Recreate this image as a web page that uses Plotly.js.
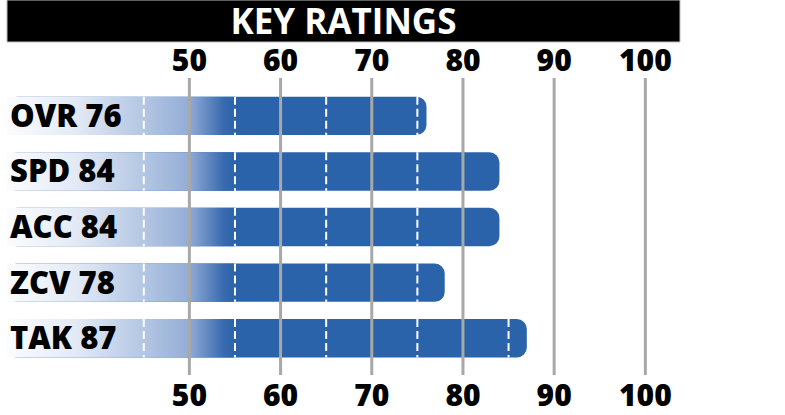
<!DOCTYPE html>
<html>
<head>
<meta charset="utf-8">
<script src="https://cdn.plot.ly/plotly-3.0.1.min.js"></script>
<style>html,body{margin:0;padding:0;background:#fff;}#chart{width:785px;height:415px;}</style>
</head>
<body>
<div id="chart"></div>
<script>
const categories = ['OVR', 'SPD', 'ACC', 'ZCV', 'TAK'];
const ratings = [76, 84, 84, 78, 87];
const tickVals = [50, 60, 70, 80, 90, 100];
const dashVals = [45, 55, 65, 75, 85];
const barBase = 30;
const fadeEnd = 55;
const chartTitle = 'KEY RATINGS';

const BLUE = '#2b63ab';
const barWidth = 0.69;
const idx = categories.map((c, i) => i);
const labels = categories.map((c, i) => c + ' ' + ratings[i]);

// gradient overlay polygons (base -> fadeEnd)
const gx = [], gy = [];
idx.forEach(i => {
  const x1 = Math.min(ratings[i], fadeEnd);
  const y0 = i - barWidth / 2, y1 = i + barWidth / 2;
  gx.push(barBase, x1, x1, barBase, barBase, null);
  gy.push(y0, y0, y1, y1, y0, null);
});

// dashed white separators within each bar
const dx = [], dy = [];
idx.forEach(i => {
  dashVals.forEach(v => {
    if (v < ratings[i]) {
      dx.push(v, v, null);
      dy.push(i - barWidth / 2, i + barWidth / 2, null);
    }
  });
});

const traces = [
  {
    type: 'bar', orientation: 'h',
    y: idx, x: ratings.map(v => v - barBase), base: barBase,
    width: barWidth,
    marker: {color: BLUE, cornerradius: 10, line: {width: 0}},
    hoverinfo: 'skip', showlegend: false
  },
  {
    type: 'scatter', mode: 'lines', x: gx, y: gy,
    fill: 'toself', line: {width: 0, color: 'rgba(0,0,0,0)'},
    fillgradient: {
      type: 'horizontal', start: barBase, stop: fadeEnd,
      colorscale: [[0, '#fbfcfe'], [0.3, '#e3eaf5'], [0.6, '#b3c6e3'], [0.78, '#97b0d8'],
                   [0.82, '#85a3d0'], [0.95, '#396ab0'], [1, BLUE]]
    },
    hoverinfo: 'skip', showlegend: false
  },
  {
    type: 'scatter', mode: 'lines', x: dx, y: dy, xaxis: 'x2',
    line: {color: '#ffffff', width: 2, dash: '8px,4px'},
    hoverinfo: 'skip', showlegend: false, connectgaps: false
  }
];

const tickFont = {family: 'Open Sans, Lato, sans-serif', size: 30, color: '#000', weight: 800};
const xRange = [barBase, 103.8];

const shapes = tickVals.map(v => ({
  type: 'line', xref: 'x', yref: 'paper', x0: v, x1: v, y0: 0, y1: 1,
  line: {color: '#a8a8a8', width: 3}, layer: 'above'
}));
shapes.unshift({
  type: 'rect', xref: 'paper', yref: 'paper', x0: 0, x1: 1,
  y0: 1 + 36 / 297, y1: 1 + 78 / 297,
  fillcolor: '#000', line: {color: '#bbbbbb', width: 1}, layer: 'below'
});

const layout = {
  width: 785, height: 415,
  margin: {l: 7, r: 105, t: 78, b: 40, pad: 0},
  paper_bgcolor: '#fff', plot_bgcolor: 'rgba(0,0,0,0)',
  title: {
    text: chartTitle, xref: 'paper', x: 0.5, xanchor: 'center',
    yref: 'container', y: 1 - 22 / 415, yanchor: 'middle',
    font: {family: 'Open Sans, sans-serif', size: 35, color: '#fff', weight: 700}
  },
  xaxis: {
    range: xRange, side: 'top', tickvals: tickVals, ticks: '', showgrid: false,
    zeroline: false, showline: false, tickfont: tickFont, automargin: false, fixedrange: true
  },
  xaxis2: {
    range: xRange, side: 'bottom', overlaying: 'x', anchor: 'y', tickvals: tickVals, ticks: '',
    showgrid: false, zeroline: false, showline: false, tickfont: tickFont, automargin: false, fixedrange: true
  },
  yaxis: {
    range: [4.66, -0.68], tickvals: idx, ticktext: labels, ticklabelposition: 'inside',
    ticks: '', showgrid: false, zeroline: false, showline: false,
    tickfont: {family: 'Open Sans, sans-serif', size: 31, color: '#000', weight: 800},
    automargin: false, fixedrange: true
  },
  shapes: shapes,
  showlegend: false
};

Plotly.newPlot('chart', traces, layout, {displayModeBar: false, staticPlot: true});
</script>
</body>
</html>
